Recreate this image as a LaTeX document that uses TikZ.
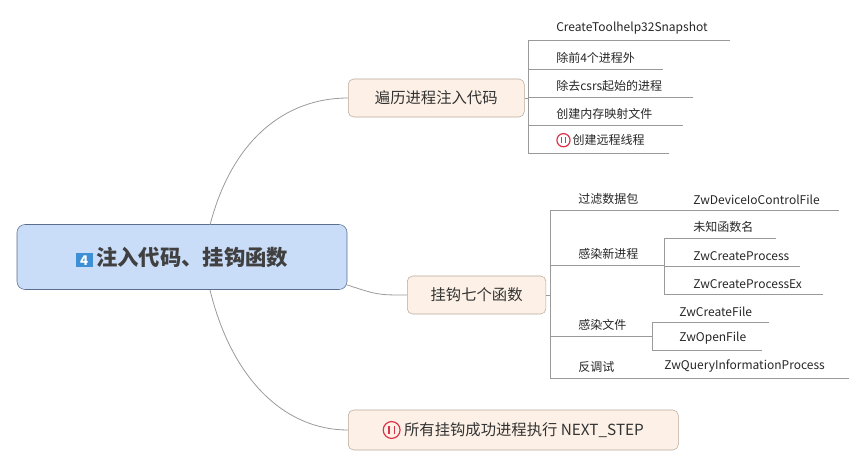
\documentclass[tikz,border=0pt]{standalone}
\usepackage{fontspec}
\setmainfont{Noto Sans CJK SC}
\usetikzlibrary{positioning, calc}
\definecolor{rootfill}{HTML}{C9DCF8}
\definecolor{rootdraw}{HTML}{5A6E8E}
\definecolor{topfill}{HTML}{FDF1E7}
\definecolor{topdraw}{HTML}{B8A89A}
\definecolor{linegray}{HTML}{9A9A9A}
\definecolor{pausered}{HTML}{D9344A}
\definecolor{iconblue}{HTML}{3D8FD6}
\tikzset{
  rootbox/.style={draw=rootdraw, fill=rootfill, rounded corners=6pt, minimum width=247.5pt, minimum height=48.75pt, font=\fontsize{16}{18}\selectfont\bfseries, text=black!75},
  topicbox/.style={draw=topdraw, fill=topfill, rounded corners=4pt, minimum height=28.5pt, font=\fontsize{11.5}{13}\selectfont, text=black!80, anchor=west},
  leaf/.style={anchor=south west, inner xsep=0pt, inner ysep=4pt, font=\fontsize{9}{10}\selectfont, text=black!85},
  branch/.style={linegray, line width=0.6pt},
  uline/.style={linegray, line width=0.5pt}
}
\newcommand\pauseicon{\tikz[baseline=-0.35em, x=1pt, y=1pt]{\draw[pausered, line width=0.9pt] (0,0) circle (0.55em); \draw[pausered, line width=0.9pt] (-0.17em,-0.27em) -- (-0.17em,0.27em) (0.17em,-0.27em) -- (0.17em,0.27em);}}
\newcommand\numicon[1]{{\fboxsep=1.5pt\colorbox{iconblue}{\textcolor{white}{\fontsize{10}{10}\selectfont\bfseries\,#1\,}}}}
\begin{document}
\begin{tikzpicture}[x=0.75pt, y=-0.75pt]
    \useasboundingbox (0,0) rectangle (865,467);

    % Root and topics
    \node[rootbox] (root) at (182,257) {\numicon{4}\,注入代码、挂钩函数};
    \node[topicbox, minimum width=132pt] (scan) at (348,98) {遍历进程注入代码};
    \node[topicbox, minimum width=104pt] (hook) at (407,295) {挂钩七个函数};
    \node[topicbox, minimum width=247.5pt, minimum height=30pt] (next) at (348,430) {\pauseicon\ 所有挂钩成功进程执行 NEXT\_STEP};

    \coordinate (rtop) at (210,225);
    \coordinate (rbot) at (210,290);
    \draw[branch] (rtop) .. controls (232,140) and (285,98) .. (scan.west);
    \draw[branch] (root.east |- 0,285) .. controls (378,295) .. (hook.west);
    \draw[branch] (rbot) .. controls (232,380) and (285,430) .. (next.west);

    % Children of scan
    \draw[uline] (scan.east) -- (528,98);
    \draw[uline] (528,40) -- (528,153);
    \node[leaf, text width=130pt] (s1) at (556,40) {CreateToolhelp32Snapshot};
    \node[leaf, text width=80pt] (s2) at (556,69) {除前4个进程外};
    \node[leaf, text width=102pt] (s3) at (556,97) {除去csrs起始的进程};
    \node[leaf, text width=94.5pt] (s4) at (556,125) {创建内存映射文件};
    \node[leaf, text width=84pt] (s5) at (556,153) {\pauseicon\,创建远程线程};
    \draw[uline] (528,40) -- (s1.south east);
    \foreach \n in {s2,s3,s4,s5}
      \draw[uline] (528,0 |- \n.south) -- (\n.south east);

    % Children of hook
    \draw[uline] (hook.east) -- (550,295);
    \draw[uline] (550,210) -- (550,378);
    \node[leaf] (h1) at (578,210) {过滤数据包};
    \node[leaf] (h2) at (578,265) {感染新进程};
    \node[leaf] (h3) at (578,336) {感染文件};
    \node[leaf] (h4) at (578,378) {反调试};
    \draw[uline] (550,210) -- (680,210);
    \draw[uline] (550,265) -- (664,265);
    \draw[uline] (550,336) -- (652,336);
    \draw[uline] (550,378) -- (664,378);

    \node[leaf, text width=109pt] (d1) at (693,210) {ZwDeviceIoControlFile};
    \draw[uline] (680,210) -- (d1.south east);

    \draw[uline] (664,238) -- (664,294);
    \node[leaf, text width=61.5pt] (p1) at (693,238) {未知函数名};
    \node[leaf, text width=80pt] (p2) at (693,266) {ZwCreateProcess};
    \node[leaf, text width=97pt] (p3) at (693,294) {ZwCreateProcessEx};
    \foreach \n in {p1,p2,p3}
      \draw[uline] (664,0 |- \n.south) -- (\n.south east);

    \draw[uline] (652,322) -- (652,350);
    \node[leaf, text width=67pt] (f1) at (679,322) {ZwCreateFile};
    \node[leaf, text width=62pt] (f2) at (679,350) {ZwOpenFile};
    \foreach \n in {f1,f2}
      \draw[uline] (652,0 |- \n.south) -- (\n.south east);

    \node[leaf, text width=138pt] (q1) at (664,378) {ZwQueryInformationProcess};
    \draw[uline] (664,378) -- (q1.south east);
\end{tikzpicture}
\end{document}
